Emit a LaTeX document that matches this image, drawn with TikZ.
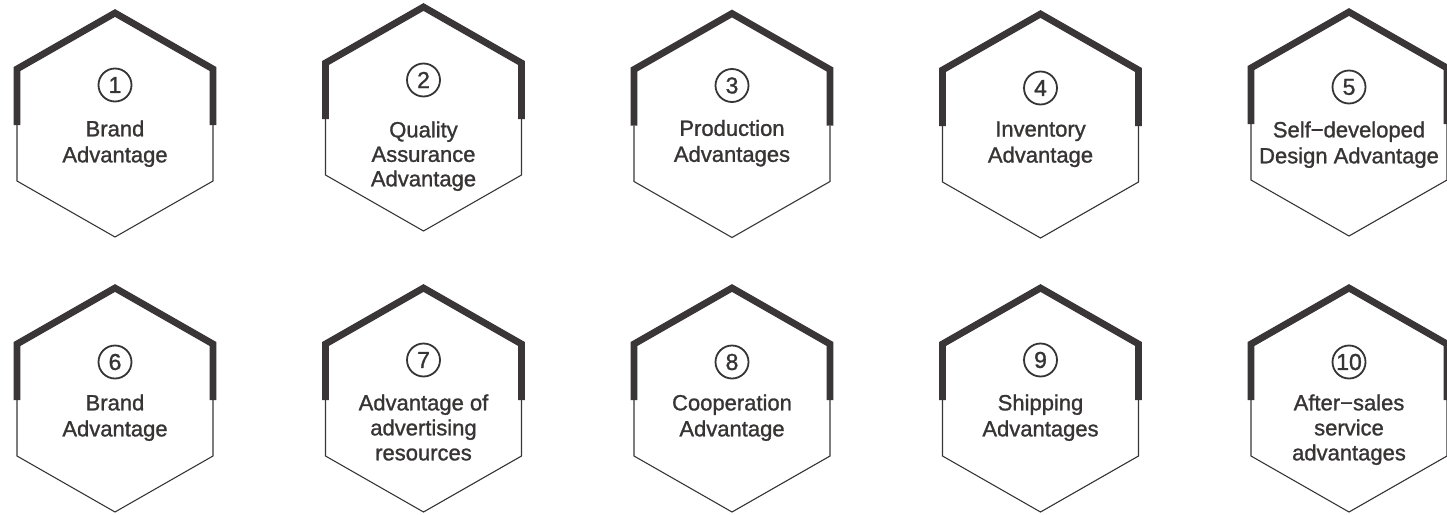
\documentclass[tikz,border=0pt]{standalone}
\usepackage{fontspec}
\setmainfont{Liberation Sans}
\newfontfamily\hexfont{Liberation Sans}[FakeBold=1.2]
\definecolor{ink}{RGB}{58,54,55}
\definecolor{txt}{RGB}{55,52,52}
\tikzset{
  hexthick/.style={draw=ink, line width=6.8pt, line join=miter, line cap=butt},
  hexthin/.style={draw=ink, line width=1.1pt, line join=miter},
  numcirc/.style={circle, draw=txt, line width=1.8pt, minimum size=33pt, inner sep=0pt, text=txt, font=\hexfont\fontsize{23}{23}\selectfont},
  hexlabel/.style={anchor=north, inner sep=0pt, align=center, text=txt},
}
\newcommand{\hexitem}[8]{%
  \coordinate (#1) at (#2,#3);
  \draw[hexthick] ([shift={(-98,0)}]#1) -- ++(0,-56) -- ++(98,-56) -- ++(98,56) -- ++(0,56);
  \draw[hexthin] ([shift={(-98,0)}]#1) -- ++(0,56) -- ++(98,56) -- ++(98,-56) -- ++(0,-56);
  \node[numcirc] (#1n) at ([shift={(0,#6)}]#1) {#4};
  \node[hexlabel, font=\hexfont\fontsize{22}{#8}\selectfont] (#1t) at ([shift={(0,#7-15.8)}]#1) {#5};
}
\begin{document}
\begin{tikzpicture}[x=1pt,y=-1pt]
  \fill[white] (0,0) rectangle (1447,514);
  \useasboundingbox (0,0) rectangle (1447,514);
  % row 1
  \hexitem{h1}{115}{125}{1}{Brand\\Advantage}{-40}{11}{26}
  \hexitem{h2}{423.5}{119}{2}{Quality\\Assurance\\Advantage}{-39}{18}{24.5}
  \hexitem{h3}{732}{125.5}{3}{Production\\Advantages}{-40}{10}{26}
  \hexitem{h4}{1040.5}{126}{4}{Inventory\\Advantage}{-38}{11}{26}
  \hexitem{h5}{1349}{124}{5}{Self−developed\\Design Advantage}{-37}{13}{26}
  % row 2
  \hexitem{h6}{115}{400}{6}{Brand\\Advantage}{-38}{10}{26}
  \hexitem{h7}{423.5}{400}{7}{Advantage of\\advertising\\resources}{-40}{10}{25}
  \hexitem{h8}{732}{400}{8}{Cooperation\\Advantage}{-38}{10}{26}
  \hexitem{h9}{1040.5}{400}{9}{Shipping\\Advantages}{-40}{10}{26}
  \hexitem{h10}{1349}{400}{10}{After−sales\\service\\advantages}{-38}{10}{25}
\end{tikzpicture}
\end{document}
